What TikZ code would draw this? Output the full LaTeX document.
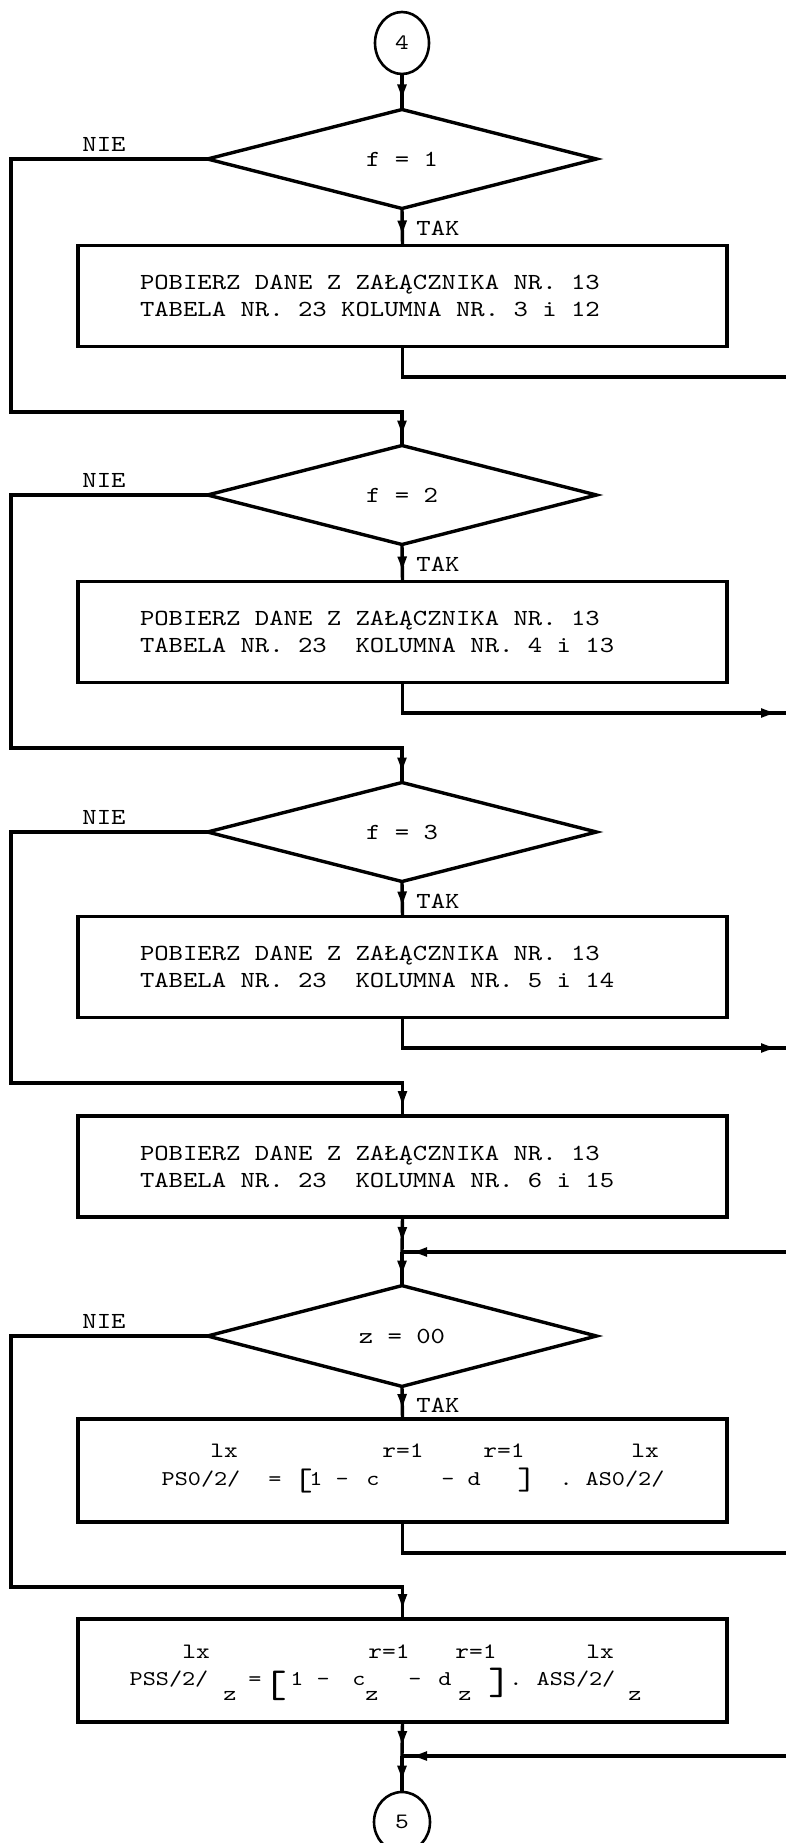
\documentclass[tikz,border=0pt]{standalone}
\usepackage{fontspec}
\setmainfont{lmmono10-regular.otf}[FakeStretch=1.19]
\usetikzlibrary{shapes.geometric,arrows.meta,decorations.markings}
\frenchspacing
% plain typewriter spacing inside aligned nodes
\newcommand\tw{\spaceskip=0pt\xspaceskip=0pt\relax}

\tikzset{
  ln/.style={line width=3.4pt},
  flow/.style={ln, postaction={decorate},
    decoration={markings, mark=at position -7pt with {\arrow{Latex[length=18pt,width=10pt]}}}},
  ifbox/.style={diamond, draw, line width=3.4pt, minimum width=389pt, minimum height=99pt,
    inner sep=0pt, outer sep=0pt},
  getbox/.style={rectangle, draw, line width=3.4pt, minimum width=649pt, minimum height=101pt,
    text width=525pt, inner xsep=62pt, align=left, outer sep=0pt},
  calcbox/.style={rectangle, draw, line width=3.4pt, minimum width=649pt, minimum height=103pt,
    outer sep=0pt},
  conn/.style={ellipse, draw, line width=2.6pt, inner sep=0pt, font=\fontsize{22}{24}\selectfont},
  sup/.style={anchor=base, font=\fontsize{22}{24}\selectfont},
  mn/.style={anchor=base, font=\fontsize{21}{23}\selectfont},
  brk/.style={font=\fontsize{31}{33}\selectfont, inner sep=0pt}
}

\begin{document}
\begin{tikzpicture}[x=1pt, y=-1pt, every node/.style={font=\fontsize{23}{27}\selectfont}]
    \useasboundingbox (0,0) rectangle (786,1843);

    % Entry connector
    \node[conn, minimum width=54pt, minimum height=62pt] (c4) at (402,43) {4};

    % Three tests on f, each with its data box
    \foreach \i/\dy/\by/\kol in {1/159/296/{TABELA NR. 23 KOLUMNA NR. 3 i 12},
                                 2/495/632/{TABELA NR. 23~~KOLUMNA NR. 4 i 13},
                                 3/832/967/{TABELA NR. 23~~KOLUMNA NR. 5 i 14}} {
        \node[ifbox] (d\i) at (402,\dy) {f = \i};
        \node (n\i) at (104,\dy-15) {NIE};
        \node (t\i) at (438,\dy+69) {TAK};
        \node[getbox, minimum height=101pt] (b\i) at (402.5,\by) {\tw POBIERZ DANE Z ZAŁĄCZNIKA NR. 13\\\kol};
        \coordinate (r\i) at (786,\by+81);
        \coordinate (k\i) at (11,\by+116);
    }

    % Default data box and merge point
    \node[getbox] (b4) at (402.5,1166.5) {\tw POBIERZ DANE Z ZAŁĄCZNIKA NR. 13\\TABELA NR. 23~~KOLUMNA NR. 6 i 15};
    \coordinate (j4) at (402,1252);
    \coordinate (r4) at (786,1252);

    % Test on z
    \node[ifbox] (d4) at (402,1336) {z = 00};
    \node (n4) at (104,1321) {NIE};
    \node (t4) at (438,1405) {TAK};
    \coordinate (k4) at (11,1587);

    % First formula box
    \node[calcbox] (b5) at (402.5,1470.5) {};
    \coordinate (r5) at (786,1553);
    \node[sup] (s5a) at (224,1457) {lx};
    \node[sup] (s5b) at (403,1457) {r=1};
    \node[sup] (s5c) at (504,1457) {r=1};
    \node[sup] (s5d) at (645,1457) {lx};
    \node[mn] (m5a) at (201,1485) {PS0/2/};
    \node[mn] (m5b) at (275,1485) {=};
    \node[brk] (m5c) at (303,1481) {[};
    \node[mn] (m5d) at (329,1485) {1 -};
    \node[mn] (m5e) at (373,1485) {c};
    \node[mn] (m5f) at (461,1485) {- d};
    \node[brk] (m5g) at (527,1480) {]};
    \node[mn] (m5h) at (612,1485) {. AS0/2/};

    % Second formula box
    \node[calcbox] (b6) at (402.5,1670.5) {};
    \coordinate (j6) at (402,1756);
    \coordinate (r6) at (786,1756);
    \node[sup] (s6a) at (196,1658) {lx};
    \node[sup] (s6b) at (389,1658) {r=1};
    \node[sup] (s6c) at (476,1658) {r=1};
    \node[sup] (s6d) at (600,1658) {lx};
    \node[mn] (m6a) at (169,1685) {PSS/2/};
    \node[mn] (m6b) at (230,1700) {z};
    \node[mn] (m6c) at (255,1685) {=};
    \node[brk, font=\fontsize{38}{40}\selectfont] (m6d) at (275,1686) {[};
    \node[mn] (m6e) at (310,1685) {1 -};
    \node[mn] (m6f) at (359,1685) {c};
    \node[mn] (m6g) at (372,1700) {z};
    \node[mn] (m6h) at (415,1685) {-};
    \node[mn] (m6i) at (445,1685) {d};
    \node[mn] (m6j) at (465,1700) {z};
    \node[brk, font=\fontsize{38}{40}\selectfont] (m6k) at (500,1683) {]};
    \node[mn] (m6l) at (516,1685) {.};
    \node[mn] (m6m) at (576,1685) {ASS/2/};
    \node[mn] (m6n) at (635,1700) {z};

    % Exit connector
    \node[conn, minimum width=56pt, minimum height=60pt] (c5) at (402,1822) {5};

    % Main flow
    \draw[flow] (c4.south) -- (d1.north);
    \foreach \i in {1,2,3}
        \draw[flow] (d\i.south) -- (b\i.north);
    \foreach \i/\nx in {1/d2, 2/d3, 3/b4}
        \draw[flow] (d\i.west) -| (k\i) -| (\nx.north);

    % Exits to the right edge
    \draw[ln] (b1.south) |- (r1);
    \foreach \i in {2,3}
        \draw[flow] (b\i.south) |- (r\i);

    \draw[flow] (b4.south) -- (j4);
    \draw[flow] (r4) -- (j4);
    \draw[flow] (j4) -- (d4.north);
    \draw[flow] (d4.south) -- (b5.north);
    \draw[ln] (b5.south) |- (r5);
    \draw[flow] (d4.west) -| (k4) -| (b6.north);
    \draw[flow] (b6.south) -- (j6);
    \draw[flow] (r6) -- (j6);
    \draw[flow] (j6) -- (c5.north);
\end{tikzpicture}
\end{document}
